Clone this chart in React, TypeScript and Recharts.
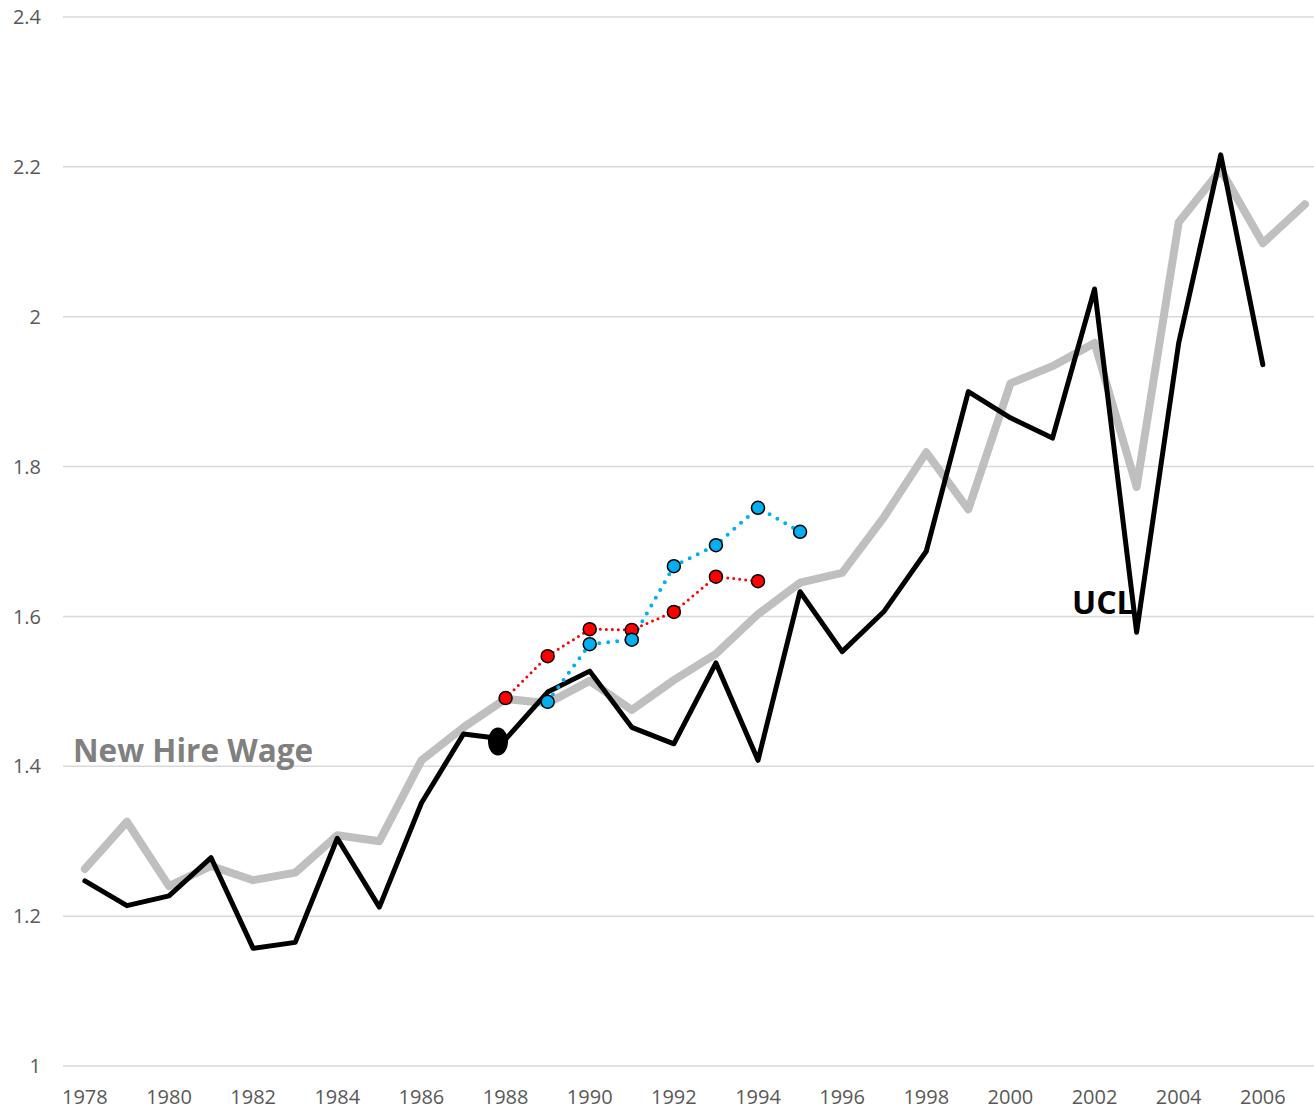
import React from "react";
import { LineChart, Line, XAxis, YAxis, CartesianGrid } from "recharts";

const years = [1978, 1979, 1980, 1981, 1982, 1983, 1984, 1985, 1986, 1987, 1988, 1989, 1990, 1991, 1992, 1993, 1994, 1995, 1996, 1997, 1998, 1999, 2000, 2001, 2002, 2003, 2004, 2005, 2006, 2007];
const newHireWage = [1.263, 1.326, 1.24, 1.267, 1.248, 1.258, 1.308, 1.3, 1.408, 1.452, 1.49, 1.484, 1.514, 1.475, 1.515, 1.55, 1.603, 1.645, 1.658, 1.733, 1.819, 1.743, 1.911, 1.934, 1.965, 1.773, 2.126, 2.196, 2.098, 2.15];
const ucl = [1.247, 1.214, 1.227, 1.278, 1.157, 1.165, 1.304, 1.212, 1.351, 1.443, 1.436, 1.499, 1.527, 1.452, 1.43, 1.538, 1.408, 1.633, 1.553, 1.607, 1.687, 1.9, 1.865, 1.838, 2.037, 1.579, 1.965, 2.216, 1.936, null];
const redSeries = [null, null, null, null, null, null, null, null, null, null, 1.491, 1.547, 1.583, 1.582, 1.606, 1.653, 1.647, null, null, null, null, null, null, null, null, null, null, null, null, null];
const blueSeries = [null, null, null, null, null, null, null, null, null, null, null, 1.486, 1.563, 1.569, 1.667, 1.695, 1.745, 1.713, null, null, null, null, null, null, null, null, null, null, null, null];
const ovalMarkerYear = [1987.82];
const ovalMarkerValue = [1.433];
const xTicks = [1978, 1980, 1982, 1984, 1986, 1988, 1990, 1992, 1994, 1996, 1998, 2000, 2002, 2004, 2006];
const yTicks = [1, 1.2, 1.4, 1.6, 1.8, 2, 2.2, 2.4];

const data = years.map((year, i) => ({
  year,
  newHire: newHireWage[i],
  ucl: ucl[i],
  red: redSeries[i],
  blue: blueSeries[i],
}));
const markerData = ovalMarkerYear.map((year, i) => ({ year, marker: ovalMarkerValue[i] }));

const tickStyle = { fontFamily: "'Open Sans', sans-serif", fontSize: 20, fill: "#595959" };

const OvalDot = (props: any) => {
  const { cx, cy, index } = props;
  if (cx == null || cy == null || props.value == null) return <g key={"o" + index} />;
  return <ellipse key={"o" + index} cx={cx} cy={cy} rx={10} ry={14} fill="#000" />;
};

export default function App() {
  return (
    <div style={{ position: "absolute", left: 0, top: 0, width: 1314, height: 1111, background: "#fff" }}>
      <LineChart width={1314} height={1111} data={data} margin={{ top: 17, right: 0, bottom: 0, left: 0 }}>
        <CartesianGrid vertical={false} stroke="#d9d9d9" strokeWidth={1.5} />
        <XAxis
          dataKey="year"
          type="number"
          domain={[1977.48, 2007.216]}
          ticks={xTicks}
          interval={0}
          axisLine={false}
          tickLine={false}
          tickSize={0}
          tickMargin={24}
          height={45}
          tick={tickStyle}
          allowDataOverflow
        />
        <YAxis
          type="number"
          domain={[1, 2.4]}
          ticks={yTicks}
          interval={0}
          axisLine={false}
          tickLine={false}
          tickSize={0}
          tickMargin={22}
          width={63}
          tick={tickStyle}
        />
        <Line dataKey="newHire" type="linear" stroke="#bfbfbf" strokeWidth={8} dot={false} strokeLinejoin="round" strokeLinecap="round" isAnimationActive={false} />
        <Line dataKey="ucl" type="linear" stroke="#000" strokeWidth={5} dot={false} strokeLinejoin="round" strokeLinecap="round" isAnimationActive={false} />
        <Line data={markerData} dataKey="marker" type="linear" stroke="none" dot={<OvalDot />} activeDot={false} isAnimationActive={false} />
        <Line dataKey="red" type="linear" stroke="#ff0000" strokeWidth={3} strokeDasharray="0 6" strokeLinecap="round" dot={{ r: 6.5, fill: "#ff0000", stroke: "#000", strokeWidth: 1.5, strokeDasharray: "" }} isAnimationActive={false} />
        <Line dataKey="blue" type="linear" stroke="#00b0f0" strokeWidth={4} strokeDasharray="0 9" strokeLinecap="round" dot={{ r: 6.5, fill: "#00b0f0", stroke: "#000", strokeWidth: 1.5, strokeDasharray: "" }} isAnimationActive={false} />
      </LineChart>
      <div style={{ position: "absolute", left: 73, top: 730, fontFamily: "'Open Sans', sans-serif", fontWeight: 700, fontSize: 31.5, color: "#808080", lineHeight: "40px", whiteSpace: "nowrap" }}>New Hire Wage</div>
      <div style={{ position: "absolute", left: 1072, top: 582, fontFamily: "'Open Sans', sans-serif", fontWeight: 700, fontSize: 32, color: "#000", lineHeight: "40px", whiteSpace: "nowrap" }}>UCL</div>
    </div>
  );
}
